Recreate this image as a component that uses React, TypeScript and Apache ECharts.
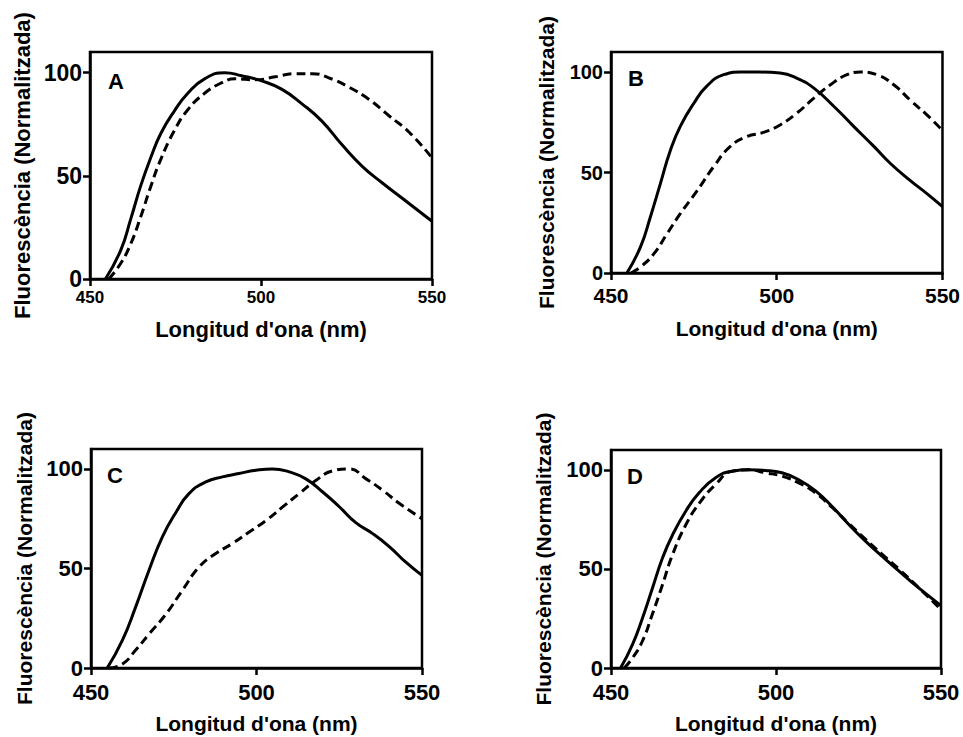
import React, { useEffect, useRef } from "react";
import * as echarts from "echarts";

// Wavelength (nm) / normalised fluorescence pairs
const aSolid: [number, number][] = [
  [454.5, 0], [459, 14], [461.9, 29], [464.8, 45], [467.8, 59], [470.7, 70.5], [474.7, 81.5],
  [478.6, 90], [483.5, 97], [489.4, 100], [494.3, 98.5], [500.2, 96], [506, 92], [511.9, 85],
  [517.8, 76.5], [523.7, 65], [529.6, 54.6], [535.5, 46.5], [541.4, 39], [550, 28],
];
const aDashed: [number, number][] = [
  [455.5, 0], [459, 7.6], [461.9, 17], [464.8, 30], [467.8, 45], [470.7, 58], [474.7, 72],
  [478.6, 82], [483.5, 90], [488.4, 95], [492.4, 97], [498.3, 96.5], [504.2, 98], [510.1, 99.5],
  [515, 99.5], [519.8, 97.5], [525.7, 93], [531.6, 87], [537.5, 79], [543.4, 71], [550, 58.7],
];
const bSolid: [number, number][] = [
  [454.8, 0], [458.9, 13], [461.9, 28], [464.9, 44.5], [467.9, 61], [470.9, 73], [475, 84.5],
  [478.9, 93], [484, 98.7], [489.1, 100], [495, 100], [501, 99.5], [506, 97], [511.2, 92],
  [517.2, 83], [523.2, 73], [529.3, 63], [534.3, 54.5], [540.3, 46], [545.3, 39.5], [550, 33],
];
const bDashed: [number, number][] = [
  [456, 0], [458.9, 3], [462.9, 9.5], [466.9, 19.5], [470.9, 29.5], [476, 41], [481, 53],
  [486, 63], [491.1, 68], [496, 70], [501, 73.7], [506, 79.5], [511.2, 87], [516.2, 93.7],
  [521.2, 98.7], [525.2, 100], [530.2, 98.7], [535.3, 93.7], [540.3, 86], [545.3, 78.7], [550, 71],
];
const cSolid: [number, number][] = [
  [454.9, 0], [459.5, 14], [463.5, 30.7], [467.5, 49], [471.6, 66], [475.6, 78], [479.6, 87.6],
  [484.7, 93.5], [489.7, 96], [494.7, 97.7], [499.8, 99.3], [504.8, 100], [509.9, 98.5],
  [514.9, 95], [520, 88.4], [525, 81], [530, 73], [535.1, 67.5], [540.1, 61], [545.2, 53], [550, 46.5],
];
const cDashed: [number, number][] = [
  [455.4, 0], [459.5, 2], [463.5, 9], [467.5, 17], [472.6, 27], [477.6, 39], [482.7, 50.8],
  [487.7, 57.5], [492.7, 62.5], [497.8, 68.3], [502.8, 74], [507.9, 80.9], [512.9, 87.6],
  [518, 94.3], [523, 99], [528, 100], [533.1, 95], [538.1, 89.3], [543.2, 82.6], [550, 75],
];
const dSolid: [number, number][] = [
  [452.9, 0], [456.5, 11.8], [459.5, 25], [462.5, 40], [465.6, 55.5], [468.6, 67], [472.6, 79],
  [476.7, 88.4], [481.7, 96], [486.7, 99.3], [491.8, 100], [496.8, 99.7], [501.8, 98.5],
  [506.9, 95], [511.9, 89.5], [517, 81.5], [522, 72.5], [527.1, 64], [532.1, 56.5], [537.2, 49],
  [542.2, 41.8], [550, 31.5],
];
const dDashed: [number, number][] = [
  [454, 0], [456.5, 5], [459.5, 13.5], [462.5, 27], [465.6, 42], [468.6, 57], [472.6, 72],
  [476.7, 83], [481.7, 92.6], [486.7, 99.3], [491.8, 100], [496.8, 98.5], [501.8, 96.8],
  [506.9, 93.4], [511.9, 88.4], [517, 81], [522, 73], [527.1, 65], [532.1, 57.5], [537.2, 50],
  [542.2, 42.2], [550, 29.5],
];

const panelLetters = ["A", "B", "C", "D"];
const xTicks = [450, 500, 550];
const yTicks = [0, 50, 100];
const xTitle = "Longitud d'ona (nm)";
const yTitle = "Fluorescència (Normalitzada)";

const FONT = '"Liberation Sans", Arial, Helvetica, sans-serif';

type Layout = {
  left: number; top: number; width: number; height: number;
  xFont: number; yFont: number; titleFont: number;
  xMargin: number; yMargin: number; xGap: number; yGap: number;
  letterX: number; letterY: number;
};

const layouts: Layout[] = [
  { left: 90, top: 52, width: 342, height: 227, xFont: 17, yFont: 23, titleFont: 22, xMargin: 10, yMargin: 8, xGap: 39, yGap: 57, letterX: 108, letterY: 70 },
  { left: 611, top: 52, width: 332, height: 221, xFont: 21, yFont: 20, titleFont: 21, xMargin: 12, yMargin: 8, xGap: 45, yGap: 54, letterX: 628, letterY: 67 },
  { left: 91, top: 449, width: 331, height: 219, xFont: 22, yFont: 22, titleFont: 21, xMargin: 13, yMargin: 8, xGap: 45, yGap: 56, letterX: 107, letterY: 464 },
  { left: 611, top: 450, width: 330, height: 218, xFont: 22, yFont: 22, titleFont: 21, xMargin: 13, yMargin: 8, xGap: 45, yGap: 57, letterX: 627, letterY: 465 },
];

const panelData: [number, number][][][] = [
  [aSolid, aDashed],
  [bSolid, bDashed],
  [cSolid, cDashed],
  [dSolid, dDashed],
];

export default function App() {
  const ref = useRef<HTMLDivElement>(null);

  useEffect(() => {
    if (!ref.current) return;
    const chart = echarts.init(ref.current, undefined, { renderer: "svg" });

    const black = "#000";
    const grid = layouts.map((l) => ({
      left: l.left, top: l.top, width: l.width, height: l.height,
      show: true, borderColor: black, borderWidth: 2.5, backgroundColor: "transparent",
      containLabel: false,
    }));

    const xAxis = layouts.map((l, i) => ({
      gridIndex: i, type: "value", min: xTicks[0], max: xTicks[xTicks.length - 1], interval: 50,
      axisLine: { show: true, onZero: false, lineStyle: { color: black, width: 2.5 } },
      axisTick: { show: true, length: 7, lineStyle: { color: black, width: 2.5 } },
      axisLabel: { color: black, fontWeight: "bold", fontSize: l.xFont, fontFamily: FONT, margin: l.xMargin },
      splitLine: { show: false },
      name: xTitle, nameLocation: "middle", nameGap: l.xGap,
      nameTextStyle: { color: black, fontWeight: "bold", fontSize: l.titleFont, fontFamily: FONT },
    }));

    const yAxis = layouts.map((l, i) => ({
      gridIndex: i, type: "value", min: 0, max: 110, interval: 50,
      axisLine: { show: true, onZero: false, lineStyle: { color: black, width: 2.5 } },
      axisTick: { show: true, length: 7, customValues: yTicks, lineStyle: { color: black, width: 2.5 } },
      axisLabel: {
        color: black, fontWeight: "bold", fontSize: l.yFont, fontFamily: FONT, margin: l.yMargin,
        customValues: yTicks,
        formatter: (v: number) => (yTicks.includes(v) ? String(v) : ""),
      },
      splitLine: { show: false },
      name: yTitle, nameLocation: "middle", nameGap: l.yGap,
      nameTextStyle: { color: black, fontWeight: "bold", fontSize: l.titleFont, fontFamily: FONT },
    }));

    const series: any[] = [];
    panelData.forEach((pair, i) => {
      pair.forEach((data, j) => {
        series.push({
          type: "line", xAxisIndex: i, yAxisIndex: i, data,
          showSymbol: false, symbol: "none", smooth: 0.5,
          lineStyle: { color: black, width: 3, type: j === 0 ? "solid" : [9, 5] },
          clip: true,
        });
      });
    });

    const graphic = layouts.map((l, i) => ({
      type: "text", x: l.letterX, y: l.letterY,
      style: { text: panelLetters[i], font: `bold 22px ${FONT}`, fill: black, textVerticalAlign: "top" },
    }));

    chart.setOption({
      animation: false,
      backgroundColor: "#fff",
      grid, xAxis, yAxis, series, graphic,
    } as any);

    return () => chart.dispose();
  }, []);

  return (
    <div
      ref={ref}
      style={{ position: "absolute", left: 0, top: 0, width: 963, height: 737 }}
    />
  );
}
